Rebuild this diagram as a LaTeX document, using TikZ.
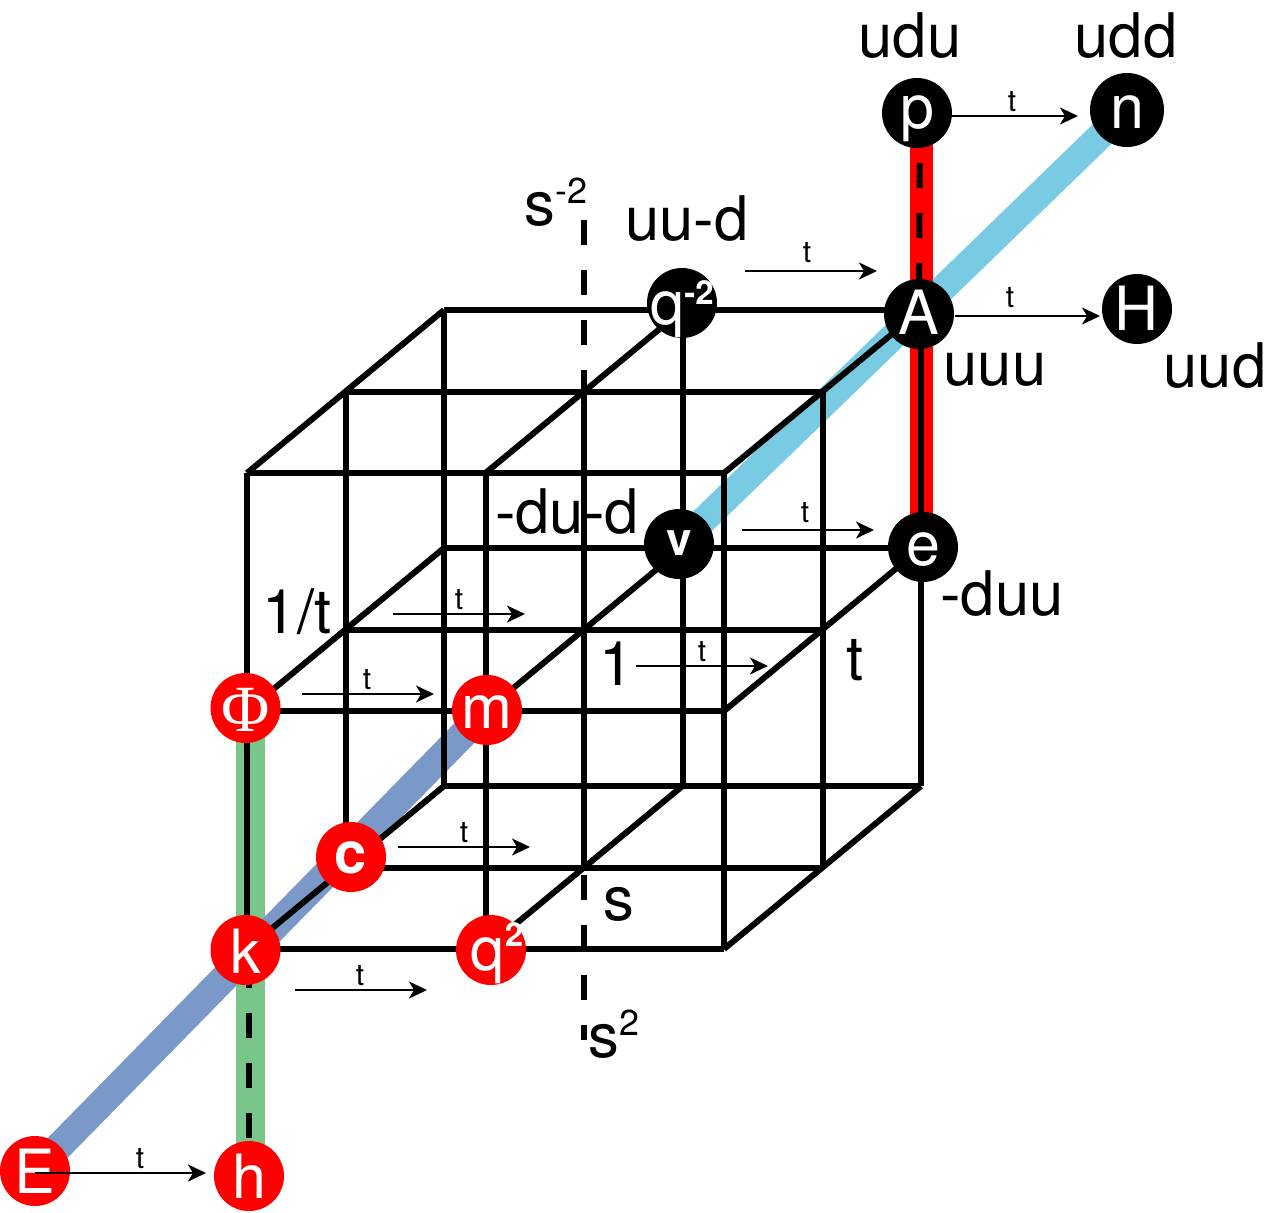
\documentclass[tikz,border=0pt]{standalone}
\usepackage{fontspec}
\setmainfont{TeX Gyre Heros}
\newfontfamily\serifface{Liberation Serif}
\usetikzlibrary{arrows.meta}
\definecolor{bandgreen}{HTML}{7AC68A}
\definecolor{bandblue}{HTML}{7A98C8}
\definecolor{bandsky}{HTML}{78CBE2}
\newcommand{\nt}[2]{\makebox[0pt]{\raisebox{-#1pt}[0pt][0pt]{#2}}}
\newcommand{\fs}[1]{\fontsize{#1}{#1}\selectfont}
\tikzset{
  ball/.style={circle,draw=none,inner sep=0pt,minimum size=70pt,text=white,font=\fs{61}},
  blackball/.style={ball,fill=black},
  redball/.style={ball,fill=red},
  lbl/.style={anchor=base,inner sep=0pt,font=\fs{61.5}},
  tlbl/.style={anchor=base,inner sep=0pt,font=\fs{30}},
  gridline/.style={line width=6pt,black},
  dashline/.style={line width=6pt,black,dash pattern=on 25pt off 25pt},
  band/.style={line width=#1},
  tarrow/.style={line width=2pt,black,-{Stealth[length=18pt,width=17pt,inset=5pt]}}
}
\begin{document}
\begin{tikzpicture}[x=1pt,y=-1pt]
\useasboundingbox (0,0) rectangle (1267,1213);
% lattice
\foreach \i in {0,1,2}{\foreach \j in {0,1,2}{\foreach \k in {0,1,2}{
  \coordinate (P-\i-\j-\k) at ({247+238.5*\i+98.5*\k},{473+238*\j-81.5*\k});
}}}
% node anchors for bands
\coordinate (gTop) at (250,708);
\coordinate (gBot) at (250,1176);
\coordinate (rTop) at (921.5,113);
\coordinate (rBot) at (921.5,547);
\coordinate (sTop) at (584,220);
\coordinate (sBot) at (584,875);
\coordinate (sEnd) at (584,1040);
\coordinate (Ec) at (35,1171);
\coordinate (mc) at (487,710);
\coordinate (vc) at (679,544);
\coordinate (nc) at (1127,110);
\coordinate (pc) at (917,113);
\coordinate (Ac) at (919,314);
\coordinate (kc) at (245.5,950);
\coordinate (hc) at (249,1176);
% bands
\draw[band=29pt,bandgreen] (gTop) -- (gBot);
\draw[band=28pt,bandblue] (Ec) -- (mc);
\draw[band=27pt,bandsky] (vc) -- (nc);
\draw[band=23pt,red] (rTop) -- (rBot);
% cube lattice
\foreach \j in {0,1,2}{\foreach \k in {0,1,2}{
  \draw[gridline] (P-0-\j-\k) -- (P-2-\j-\k);
}}
\foreach \i in {0,1,2}{\foreach \k in {0,1,2}{
  \draw[gridline] (P-\i-0-\k) -- (P-\i-2-\k);
}}
\foreach \i in {0,1,2}{\foreach \j in {0,1,2}{
  \draw[gridline] (P-\i-\j-0) -- (P-\i-\j-2);
}}
% dashed axis and dashes between circles
\draw[dashline] (sTop) -- (P-1-0-1);
\draw[dashline] (sBot) -- (sEnd);
\draw[dashline] (pc) ++(3,0) -- (Ac);
\draw[dashline,dash phase=37pt] (kc) ++(3.5,0) -- (hc);
% circles
\node[blackball] (p) at (pc) {\nt{15}{p}};
\node[blackball,minimum size=74pt] (n) at (nc) {\nt{18}{n}};
\node[blackball] (qm) at (682,303) {\nt{21}{q\raisebox{20pt}{\fs{33}\bfseries -2}}};
\node[blackball] (A) at (Ac) {\nt{20}{A}};
\node[blackball] (H) at (1137,309) {\nt{21}{H}};
\node[blackball] (v) at (vc) {\nt{11}{\fs{46}\bfseries v}};
\node[blackball] (e) at (923,547) {\nt{18}{e}};
\node[redball] (Phi) at (245.5,708) {\nt{23}{\fs{66}\serifface Φ}};
\node[redball] (m) at (mc) {\nt{18}{m}};
\node[redball] (c) at (351,857) {\nt{16}{\fs{58}\bfseries c}};
\node[redball] (k) at (kc) {\nt{23}{k}};
\node[redball] (qp) at (491,950) {\nt{20}{\hspace*{12pt}q\raisebox{24pt}{\fs{33}\bfseries 2}}};
\node[redball] (E) at (Ec) {\nt{22}{E}};
\node[redball] (h) at (hc) {\nt{22}{h}};
% labels
\node[lbl] (l1) at (910,57) {udu};
\node[lbl] (l2) at (1126,57) {udd};
\node[lbl] (l3) at (687,240) {uu-d};
\node[lbl] (l4) at (556,225) {s\raisebox{22pt}{\fs{36}-2}};
\node[lbl] (l5) at (995,385) {uuu};
\node[lbl] (l6) at (1215,387) {uud};
\node[lbl] (l7) at (567,533) {-du-d};
\node[lbl] (l8) at (1002,615) {-duu};
\node[lbl] (l9) at (297,633) {1/t};
\node[lbl] (l10) at (617,685) {1};
\node[lbl] (l11) at (855,680) {t};
\node[lbl] (l12) at (619,920) {s};
\node[lbl] (l13) at (614,1057) {s\raisebox{22pt}{\fs{36}2}};
% small arrows
\foreach \nm/\xa/\xb/\yy/\xt/\tb in {a1/952/1078/116/1012/111, a2/745/877/271/807/262, a3/955/1100/316/1010/307, a4/742/874/530/805/522, a5/393/525/614/459/609, a6/636/768/666/702/661, a7/302/434/694/367/689, a8/398/530/847/464/842, a9/295/427/990/360/985, a10/35/206/1173/140/1168}{
  \coordinate (\nm s) at (\xa,\yy);
  \coordinate (\nm e) at (\xb,\yy);
  \draw[tarrow] (\nm s) -- (\nm e);
  \node[tlbl] (\nm t) at (\xt,\tb) {t};
}
\end{tikzpicture}
\end{document}
